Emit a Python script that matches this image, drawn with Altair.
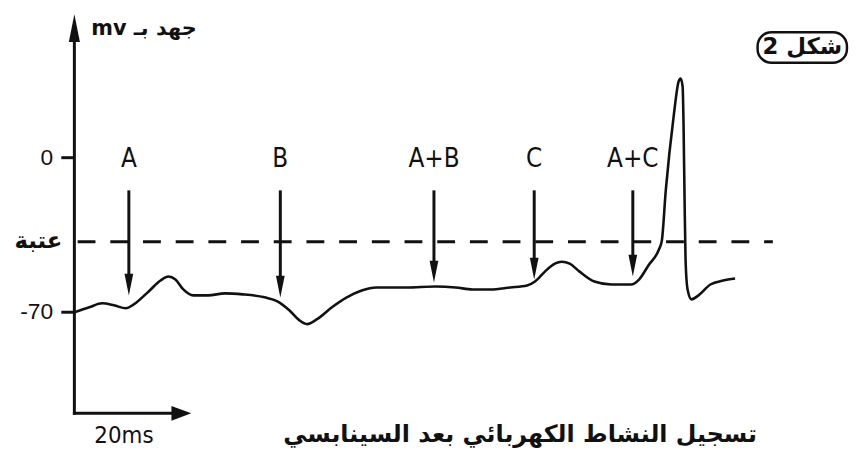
import altair as alt
import pandas as pd

# ---- data (time in ms, potential in mV) ----
t_ms = [0, 2.73, 5.09, 7.27, 9.45, 10.91, 13.64, 15.82, 17.27, 18.55, 20.0, 21.82, 24.55,
        27.64, 30.91, 34.91, 37.27, 39.45, 41.27, 42.73, 44.55, 47.27, 50.0, 52.73, 55.45,
        60.91, 66.36, 70.0, 73.09, 76.36, 80.0, 83.09, 84.55, 86.36, 88.18, 89.45, 90.91,
        92.73, 95.45, 98.55, 102.18, 103.64, 105.45, 107.27, 107.82, 108.55, 110.0, 110.91,
        111.27, 111.64, 111.82, 112.0, 112.18, 112.55, 113.27, 114.55, 116.73, 119.09, 121.27]
v_mv = [-70.0, -67.76, -65.96, -66.86, -68.2, -66.41, -60.58, -55.64, -53.85, -55.19, -59.68,
        -62.37, -62.37, -61.47, -61.92, -63.27, -65.06, -69.1, -73.59, -75.38, -73.14, -67.76,
        -63.27, -60.13, -58.78, -58.78, -58.33, -58.78, -59.68, -59.68, -58.78, -57.88, -56.09,
        -51.6, -48.01, -47.11, -48.01, -51.6, -56.09, -57.43, -57.43, -55.19, -48.46, -41.73,
        -37.69, -14.81, 18.85, 34.55, 35.9, 32.31, 13.46, -19.29, -46.22, -59.68, -64.17,
        -62.37, -57.43, -55.64, -54.74]

stim_labels = ["A", "B", "A+B", "C", "A+C"]
stim_t = [10.0, 37.8, 66.0, 84.4, 102.5]
stim_tip = [-62.4, -63.3, -56.5, -55.2, -53.8]
stim_top = -14.8
label_v = -0.5

threshold = -38.1
ytick_vals = [0, -70]
ytick_text = ["0", "-70"]
threshold_text = "عتبة"

y_axis_bottom = -115.8
y_axis_top = 65.0
x_axis_end = 21.45
scale_bar_label = "20ms"
y_title = "mv جهد بـ"
caption = "تسجيل النشاط الكهربائي بعد السينابسي"
fig_label = "شكل 2"

# ---- scales ----
xs = alt.Scale(domain=[-12.1818, 141.0909], nice=False, zero=False)
ys = alt.Scale(domain=[-129.68, 66.86], nice=False, zero=False)
INK = "#111111"
NARROW = "DejaVu Sans Condensed, Liberation Sans, sans-serif"
ARAB = "DejaVu Sans, sans-serif"


def X(f="x"):
    return alt.X(f"{f}:Q", scale=xs, axis=None)


def Y(f="y"):
    return alt.Y(f"{f}:Q", scale=ys, axis=None)


curve_df = pd.DataFrame({"x": t_ms, "y": v_mv})
curve = alt.Chart(curve_df).mark_line(
    interpolate="monotone", color=INK, strokeWidth=2.6
).encode(x=X(), y=Y())

thr_df = pd.DataFrame({"x": [0.6], "x2": [128.2], "y": [threshold]})
thr = alt.Chart(thr_df).mark_rule(
    color=INK, strokeWidth=3, strokeDash=[18, 15]
).encode(x=X(), x2="x2:Q", y=Y())

stim_df = pd.DataFrame({"x": stim_t, "y": [stim_top] * 5, "y2": [v + 5 for v in stim_tip],
                        "tip": stim_tip, "lab": stim_labels, "ly": [label_v] * 5})
shafts = alt.Chart(stim_df).mark_rule(color=INK, strokeWidth=3).encode(
    x=X(), y=Y(), y2="y2:Q")
heads = alt.Chart(stim_df).mark_point(
    shape="M-0.4,-2L0.4,-2L0,0Z", size=484, filled=True, color=INK, opacity=1, strokeWidth=0
).encode(x=X(), y=Y("tip"))
labels = alt.Chart(stim_df).mark_text(
    font=NARROW, fontSize=26, color=INK, baseline="middle", align="center"
).encode(x=X(), y=Y("ly"), text="lab:N")

# axes drawn as arrows
yaxis_df = pd.DataFrame({"x": [0], "y": [y_axis_bottom], "y2": [52.0]})
yaxis = alt.Chart(yaxis_df).mark_rule(color=INK, strokeWidth=3, strokeCap="square").encode(
    x=X(), y=Y(), y2="y2:Q")
xaxis_df = pd.DataFrame({"x": [0], "x2": [19.0], "y": [y_axis_bottom]})
xaxis = alt.Chart(xaxis_df).mark_rule(color=INK, strokeWidth=3, strokeCap="square").encode(
    x=X(), x2="x2:Q", y=Y())
yhead = alt.Chart(pd.DataFrame({"x": [0], "y": [y_axis_top]})).mark_point(
    shape="M-0.4,2L0.4,2L0,0Z", size=784, filled=True, color=INK, opacity=1, strokeWidth=0
).encode(x=X(), y=Y())
xhead = alt.Chart(pd.DataFrame({"x": [x_axis_end], "y": [y_axis_bottom]})).mark_point(
    shape="M-2,-0.75L-2,0.75L0,0Z", size=400, filled=True, color=INK, opacity=1, strokeWidth=0
).encode(x=X(), y=Y())

tick_df = pd.DataFrame({"x": [-2.4] * 2, "x2": [0] * 2, "y": ytick_vals, "t": ytick_text,
                        "lx": [-3.9] * 2})
ticks = alt.Chart(tick_df).mark_rule(color=INK, strokeWidth=3).encode(
    x=X(), x2="x2:Q", y=Y())
tick_labels = alt.Chart(tick_df).mark_text(
    font="Liberation Sans", fontSize=23, color=INK, align="right", baseline="middle"
).encode(x=X("lx"), y=Y(), text="t:N")

thr_label = alt.Chart(pd.DataFrame({"x": [-2.2], "y": [threshold + 0.5], "t": [threshold_text]})).mark_text(
    font=ARAB, fontSize=23, fontWeight="bold", color=INK, align="right", baseline="middle"
).encode(x=X(), y=Y(), text="t:N")

scale_lab = alt.Chart(pd.DataFrame({"x": [9.1], "y": [-126.1], "t": [scale_bar_label]})).mark_text(
    font=NARROW, fontSize=24, color=INK, align="center", baseline="middle"
).encode(x=X(), y=Y(), text="t:N")

ytitle = alt.Chart(pd.DataFrame({"x": [3.1], "y": [58.3], "t": [y_title]})).mark_text(
    font=ARAB, fontSize=21, fontWeight="bold", color=INK, align="left", baseline="middle"
).encode(x=X(), y=Y(), text="t:N")

cap = alt.Chart(pd.DataFrame({"x": [81.8], "y": [-125.6], "t": [caption]})).mark_text(
    font=ARAB, fontSize=24, fontWeight="bold", color=INK, align="center", baseline="middle"
).encode(x=X(), y=Y(), text="t:N")

box = alt.Chart(pd.DataFrame({"x": [125.4], "x2": [141.8], "y": [56.8], "y2": [43.0]})).mark_rect(
    fill="white", stroke=INK, strokeWidth=2.5, cornerRadius=14
).encode(x=X(), x2="x2:Q", y=Y(), y2="y2:Q")
box_text = alt.Chart(pd.DataFrame({"x": [133.6], "y": [50.0], "t": [fig_label]})).mark_text(
    font=ARAB, fontSize=23, fontWeight="bold", color=INK, align="center", baseline="middle"
).encode(x=X(), y=Y(), text="t:N")

chart = alt.layer(
    thr, curve, shafts, heads, labels, yaxis, xaxis, yhead, xhead, ticks, tick_labels,
    thr_label, scale_lab, ytitle, cap, box, box_text
).properties(
    width=843, height=438,
    autosize=alt.AutoSizeParams(type="none"),
    padding={"left": 0, "top": 0, "right": 8, "bottom": 8},
    background="white",
).configure_view(stroke=None)

chart.save("out.html", embed_options={"renderer": "svg", "actions": False})
